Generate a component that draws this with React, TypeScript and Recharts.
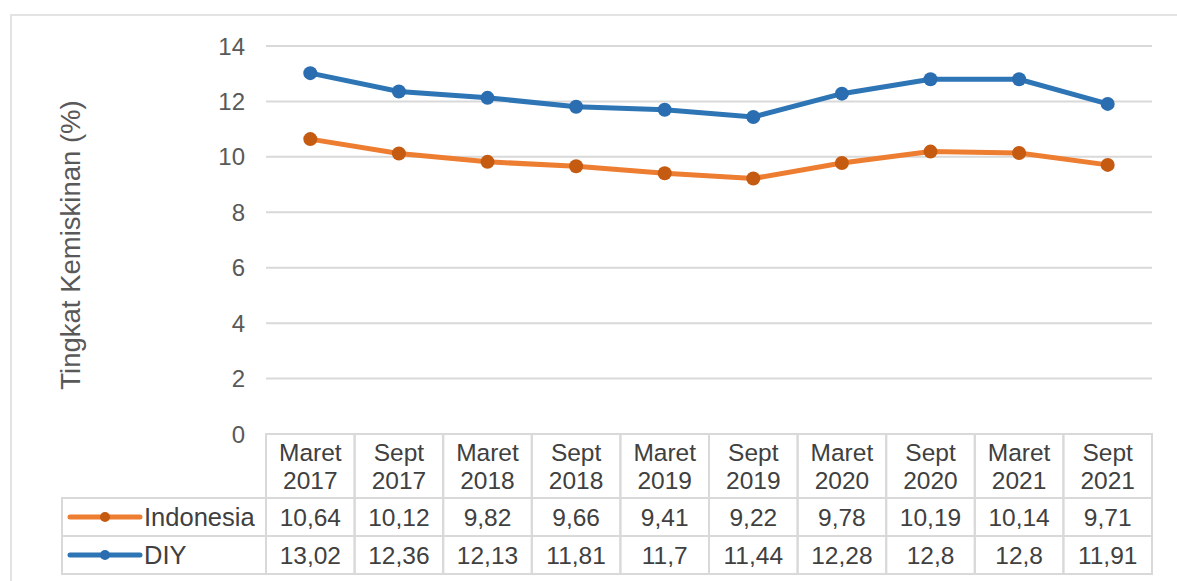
import React from "react";
import { LineChart, Line, XAxis, YAxis, CartesianGrid } from "recharts";

const CATEGORIES = [
  "Maret 2017", "Sept 2017", "Maret 2018", "Sept 2018", "Maret 2019",
  "Sept 2019", "Maret 2020", "Sept 2020", "Maret 2021", "Sept 2021",
];
const INDONESIA = [10.64, 10.12, 9.82, 9.66, 9.41, 9.22, 9.78, 10.19, 10.14, 9.71];
const DIY = [13.02, 12.36, 12.13, 11.81, 11.7, 11.44, 12.28, 12.8, 12.8, 11.91];
const Y_TICKS = [0, 2, 4, 6, 8, 10, 12, 14];

const SERIES = [
  { key: "indonesia", name: "Indonesia", values: INDONESIA, line: "#ED7D31", dot: "#C55A11" },
  { key: "diy", name: "DIY", values: DIY, line: "#2E75B6", dot: "#2A6DB0" },
];

const data = CATEGORIES.map((c, i) => ({
  category: c,
  indonesia: INDONESIA[i],
  diy: DIY[i],
}));

const W = 1177;
const H = 581;
const PLOT_LEFT = 266;
const PLOT_RIGHT = 1152;
const COL_W = (PLOT_RIGHT - PLOT_LEFT) / CATEGORIES.length;
const HEADER_H = 64;
const ROW_H = 38;
const LEGEND_LEFT = 62;
const FONT = "'Liberation Sans', Arial, sans-serif";
const TEXT = "#404040";
const BORDER = "#d9d9d9";

const fmt = (v: number) => String(v).replace(".", ",");

// draws one column of the data table under each category
function TableTick(props: any) {
  const { x, y, payload } = props;
  const i = payload.index;
  const left = x - COL_W / 2;
  const [l1, l2] = String(payload.value).split(" ");
  return (
    <g fontFamily={FONT} fontSize={24.5} fill={TEXT}>
      <rect x={left} y={y} width={COL_W} height={HEADER_H} fill="none" stroke={BORDER} strokeWidth={2} />
      <text x={x} y={y + 27} textAnchor="middle" fill={TEXT}>{l1}</text>
      <text x={x} y={y + 55} textAnchor="middle" fill={TEXT}>{l2}</text>
      {SERIES.map((s, r) => {
        const top = y + HEADER_H + r * ROW_H;
        return (
          <g key={s.key}>
            <rect x={left} y={top} width={COL_W} height={ROW_H} fill="none" stroke={BORDER} strokeWidth={2} />
            <text x={x} y={top + 28} textAnchor="middle" fill={TEXT}>{fmt(s.values[i])}</text>
          </g>
        );
      })}
      {i === 0 &&
        SERIES.map((s, r) => {
          const top = y + HEADER_H + r * ROW_H;
          const mid = top + ROW_H / 2;
          return (
            <g key={"leg-" + s.key}>
              <rect x={LEGEND_LEFT} y={top} width={left - LEGEND_LEFT} height={ROW_H} fill="none" stroke={BORDER} strokeWidth={2} />
              <line x1={70} x2={140} y1={mid} y2={mid} stroke={s.line} strokeWidth={5} strokeLinecap="round" />
              <circle cx={105} cy={mid} r={5} fill={s.dot} />
              <text x={144} y={top + 28} fontSize={25.5} fill={TEXT}>{s.name}</text>
            </g>
          );
        })}
    </g>
  );
}

function YLabel(props: any) {
  const cx = 70;
  const cy = 245;
  return (
    <text
      x={cx}
      y={cy}
      transform={`rotate(-90 ${cx} ${cy})`}
      textAnchor="middle"
      dominantBaseline="central"
      fontFamily={FONT}
      fontSize={27.5}
      fill="#595959"
    >
      Tingkat Kemiskinan (%)
    </text>
  );
}

export default function App() {
  return (
    <div style={{ position: "absolute", left: 0, top: 0, width: W, height: H, background: "#fff", overflow: "hidden" }}>
      <div style={{ position: "absolute", left: 10, top: 14, width: W, height: H, border: "2px solid #e3e3e3", boxSizing: "border-box" }} />
      <div style={{ position: "absolute", left: 0, top: 0 }}>
        <LineChart width={W} height={H} data={data} margin={{ top: 46, right: W - PLOT_RIGHT, bottom: 7, left: 60 }}>
          <CartesianGrid horizontal vertical={false} stroke={BORDER} strokeWidth={2} />
          <XAxis
            dataKey="category"
            height={140}
            axisLine={false}
            tickLine={false}
            tickSize={0}
            tickMargin={0}
            interval={0}
            padding={{ left: COL_W / 2, right: COL_W / 2 }}
            tick={<TableTick />}
          />
          <YAxis
            width={PLOT_LEFT - 60}
            domain={[0, 14]}
            ticks={Y_TICKS}
            axisLine={false}
            tickLine={false}
            tickSize={0}
            tickMargin={21}
            tick={{ fill: "#595959", fontSize: 24, fontFamily: FONT }}
            label={<YLabel />}
          />
          {SERIES.map((s) => (
            <Line
              key={s.key}
              type="linear"
              dataKey={s.key}
              name={s.name}
              stroke={s.line}
              strokeWidth={5}
              dot={{ r: 7, fill: s.dot, stroke: s.dot, strokeWidth: 0 }}
              activeDot={false}
              isAnimationActive={false}
            />
          ))}
        </LineChart>
      </div>
    </div>
  );
}
